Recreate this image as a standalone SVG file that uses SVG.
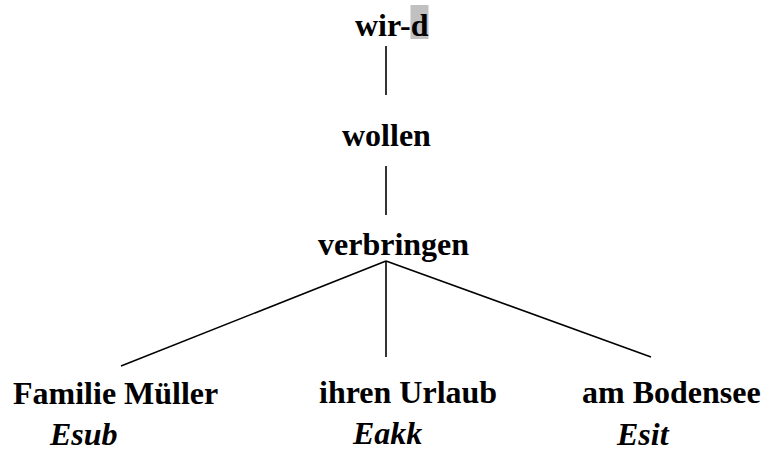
<svg xmlns="http://www.w3.org/2000/svg" width="762" height="451" viewBox="0 0 762 451">
<style>
.t{font-family:"Liberation Serif","Times New Roman",serif;font-weight:bold;font-size:32px;fill:#000}
.i{font-family:"Liberation Serif","Times New Roman",serif;font-weight:bold;font-style:italic;font-size:32px;fill:#000}
.c{stroke:#000;stroke-width:1.6;fill:none}
</style>
<rect width="762" height="451" fill="#fff"/>
<g id="connectors">
<line class="c" x1="386" y1="46" x2="386" y2="95"/>
<line class="c" x1="386" y1="166" x2="386" y2="215"/>
<line class="c" x1="386" y1="261" x2="121" y2="366"/>
<line class="c" x1="386" y1="261" x2="386" y2="357"/>
<line class="c" x1="386" y1="261" x2="651" y2="357"/>
</g>
<g id="wird">
<rect x="410.5" y="5" width="18" height="34" fill="#c0c0c0"/>
<text class="t" x="355" y="36">wir-d</text>
</g>
<g id="wollen"><text class="t" x="342" y="146">wollen</text></g>
<g id="verbringen"><text class="t" x="318" y="255">verbringen</text></g>
<g id="familie">
<text class="t" x="13" y="404">Familie Müller</text>
<text class="i" x="50" y="445">Esub</text>
</g>
<g id="urlaub">
<text class="t" x="319" y="403">ihren Urlaub</text>
<text class="i" x="353" y="444">Eakk</text>
</g>
<g id="bodensee">
<text class="t" x="582" y="403">am Bodensee</text>
<text class="i" x="617" y="445">Esit</text>
</g>
</svg>
